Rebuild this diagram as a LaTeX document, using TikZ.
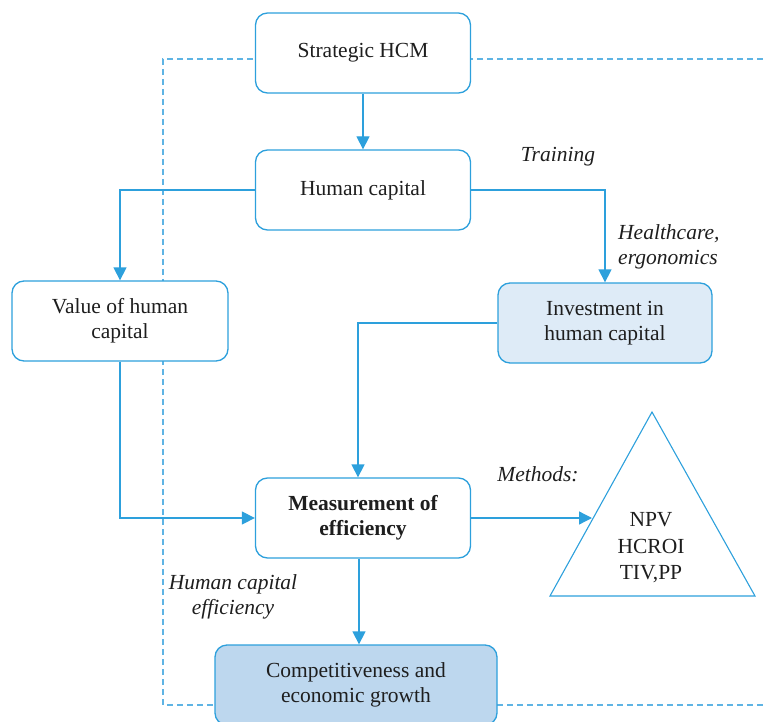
\documentclass[tikz,border=0pt]{standalone}
\usepackage{fontspec}
\setmainfont{Liberation Serif}
\usetikzlibrary{arrows.meta}
\definecolor{lineblue}{RGB}{45,160,220}
\definecolor{dashblue}{RGB}{95,180,228}
\definecolor{fillA}{RGB}{222,235,247}
\definecolor{fillB}{RGB}{189,215,238}
\definecolor{txt}{RGB}{30,30,30}
\tikzset{
  box/.style={draw=lineblue, line width=1.3pt, rounded corners=12pt, fill=white,
    minimum width=215pt, minimum height=80pt, align=center, text=txt,
    font=\fontsize{21.5}{25}\selectfont, inner sep=2pt},
  conn/.style={draw=lineblue, line width=1.3pt, -{Triangle[length=13pt,width=13pt]}},
  plain/.style={draw=lineblue, line width=1.2pt},
  lbl/.style={font=\fontsize{21.5}{25}\selectfont\itshape, text=txt, align=center, inner sep=0pt},
  frame/.style={draw=dashblue, line width=1.2pt, dash pattern=on 6pt off 4pt}
}
\begin{document}
\begin{tikzpicture}[x=1pt,y=-1pt]
\useasboundingbox (0,0) rectangle (763,722);
% dashed frame
\coordinate (fTR) at (763,59);
\coordinate (fTL) at (163,59);
\coordinate (fBL) at (163,705);
\coordinate (fBR) at (763,705);
\draw[frame] (fTR) -- (fTL) -- (fBL) -- (fBR);
% boxes
\node[box] (shcm) at (363,53) {Strategic HCM};
\node[box] (hc) at (363,190) {Human capital};
\node[box, minimum width=216pt] (val) at (120,321) {Value of human\\capital};
\node[box, fill=fillA, minimum width=214pt] (inv) at (605,323) {Investment in\\human capital};
\node[box] (meas) at (363,518) {\bfseries Measurement of\\\bfseries efficiency};
\node[box, fill=fillB, minimum width=282pt] (comp) at (356,685) {Competitiveness and\\economic growth};
% triangle
\coordinate (tA) at (652,412);
\coordinate (tL) at (550,596);
\coordinate (tR) at (755,596);
\draw[plain, line width=1.1pt] (tA) -- (tL) -- (tR) -- cycle;
\node[lbl, font=\fontsize{21.5}{26.5}\selectfont] (methods) at (651,548) {NPV\\HCROI\\TIV,PP};
\coordinate (tIn) at (592,518);
% connectors
\draw[conn] (shcm) -- (hc);
\draw[conn] (hc.west) -| (val.north);
\draw[conn] (hc.east) -| (inv.north);
\draw[conn] (inv.west) -| ([xshift=-5pt]meas.north);
\draw[conn] (val.south) |- (meas.west);
\draw[conn] (meas.east) -- (tIn);
\draw[conn] ([xshift=-4pt]meas.south) -- ([xshift=3pt]comp.north);
% labels
\node[lbl] (ltrain) at (558,157) {Training};
\node[lbl, align=left, anchor=west] (lhealth) at (618,247) {Healthcare,\\ergonomics};
\node[lbl] (lmeth) at (538,474) {Methods:};
\node[lbl] (leff) at (233,597) {Human capital\\efficiency};
\end{tikzpicture}
\end{document}
